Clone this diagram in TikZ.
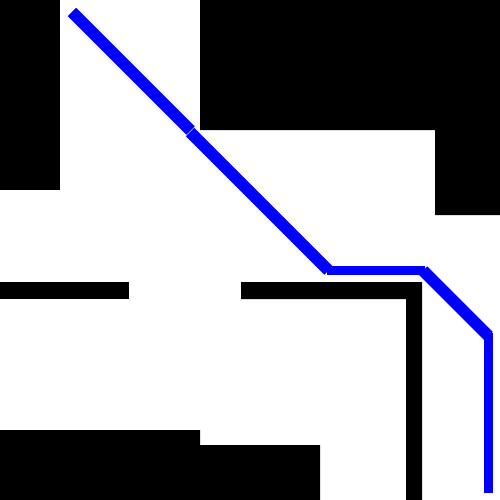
\documentclass[tikz,border=0pt]{standalone}
\begin{document}
\begin{tikzpicture}[x=1pt,y=-1pt,
  obstacle/.style={fill=black,draw=none},
  route/.style={draw={rgb,255:red,0;green,0;blue,255},line width=9pt,line cap=butt},
  diag/.style={route,line width=12pt}]
\useasboundingbox (0,0) rectangle (500,500);
\fill[white] (0,0) rectangle (500,500);
% obstacles
\path[obstacle] (0,0) rectangle (60,190);
\path[obstacle] (200,0) -- (500,0) -- (500,215) -- (435,215) -- (435,130) -- (200,130) -- cycle;
\path[obstacle] (0,282) rectangle (129,299);
\path[obstacle] (241,282) -- (422,282) -- (422,500) -- (406,500) -- (406,299) -- (241,299) -- cycle;
\path[obstacle] (0,430) -- (200,430) -- (200,445) -- (320,445) -- (320,500) -- (0,500) -- cycle;
% route
\coordinate (p0) at (72,12);
\coordinate (p1) at (190.5,130.5);
\coordinate (p2) at (190,132);
\coordinate (p3) at (328.5,270.5);
\coordinate (p4) at (423,270.5);
\coordinate (p5) at (488.5,336);
\coordinate (p6) at (488.5,493);
\draw[diag] (p0) -- (p1);
\draw[diag] (p2) -- (p3);
\draw[route] ([xshift=-2pt]p3) -- ([xshift=2pt]p4);
\draw[diag] (p4) -- (p5);
\draw[route] ([yshift=3pt]p5) -- (p6);
\end{tikzpicture}
\end{document}
